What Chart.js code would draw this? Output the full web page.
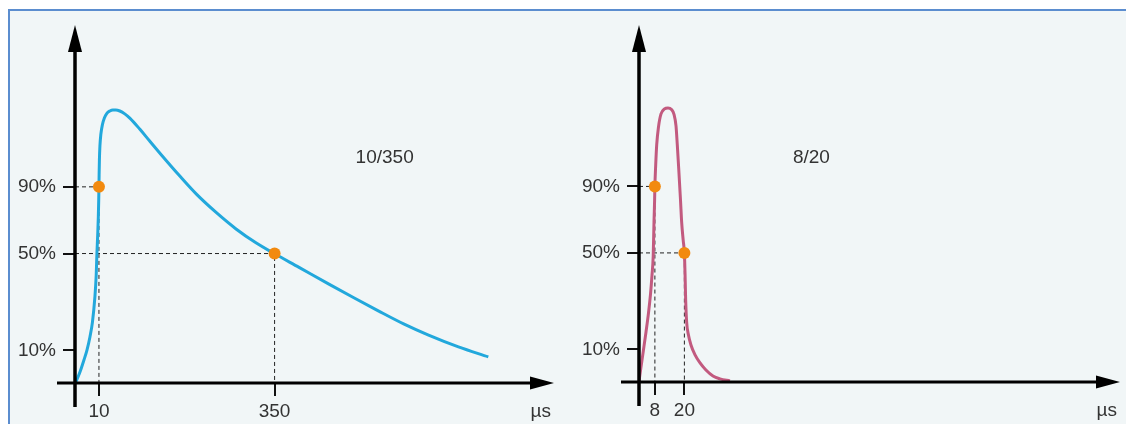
<!DOCTYPE html>
<html>
<head>
<meta charset="utf-8">
<script src="https://cdn.jsdelivr.net/npm/chart.js@4.4.1/dist/chart.umd.min.js"></script>
<style>
  html, body { margin: 0; padding: 0; background: #fff; }
  #wrap { position: relative; width: 1126px; height: 424px; overflow: hidden; }
  #panel {
    position: absolute; left: 8px; top: 9px; right: 0; bottom: 0;
    background: #f1f6f7;
    border-top: 2px solid #5b8dcf;
    border-left: 2px solid #5b8dcf;
  }
  canvas { position: absolute; top: 0; }
</style>
</head>
<body>
<div id="wrap">
  <div id="panel"></div>
  <canvas id="left" width="560" height="424" style="left:0"></canvas>
  <canvas id="right" width="566" height="424" style="left:560px"></canvas>
</div>
<script>
// schematic units (ticks are not evenly spaced there)
const yTickPos = [12.5, 49.5, 75];
const yTickLabels = ["10%", "50%", "90%"];

// 10/350 wave
const leftTickPos = [42, 350];
const leftTickLabels = ["10", "350"];
const leftT = [1.7, 8.7, 15.7, 21.0, 26.2, 30.6, 34.9, 37.2, 38.4, 39.8, 40.9, 41.6, 42.0, 42.3, 42.8, 43.7, 45.4, 48.0, 51.5, 55.9, 61.1, 66.4, 71.6, 78.6, 87.3, 96.1, 113.5, 131.0, 154.2, 183.4, 212.5, 247.5, 282.4, 317.3, 350, 392.9, 445.3, 489.0, 532.7, 576.3, 620.0, 672.4, 724.8];
const leftV = [0.4, 4.2, 8.8, 12.6, 17.6, 23.3, 32.9, 41.3, 49.3, 56.6, 63.5, 70.0, 75.0, 79.5, 85.3, 90.6, 95.2, 98.7, 101.3, 103.1, 104.0, 104.4, 104.4, 104.0, 102.9, 101.3, 97.1, 92.5, 86.5, 79.2, 72.3, 65.2, 58.9, 53.6, 49.4, 44.2, 37.8, 32.6, 27.5, 22.6, 18.3, 13.8, 10.0];
const leftMarkT = [42, 350];
const leftMarkV = [75, 49.5];

// 8/20 wave
const rightTickPos = [7, 20];
const rightTickLabels = ["8", "20"];
const rightT = [0, 0.88, 1.9, 3.09, 4.19, 5.07, 5.73, 6.26, 6.61, 6.88, 7.0, 7.36, 7.8, 8.59, 9.7, 11.24, 12.78, 14.32, 15.43, 16.31, 16.88, 17.54, 18.29, 18.8, 19.47, 20.0, 20.31, 20.57, 21.0, 21.8, 22.9, 24.7, 26.9, 29.5, 32.6, 35.7, 40.1];
const rightV = [0.2, 5.75, 11.9, 19.2, 26.5, 33.7, 41.0, 48.3, 61.3, 69.8, 75.0, 83.2, 90.9, 97.8, 102.8, 104.7, 105.1, 104.5, 102.6, 98.2, 90.9, 81.3, 69.8, 61.3, 54.4, 49.5, 41.0, 31.4, 23.0, 18.0, 14.2, 10.4, 7.3, 4.6, 2.3, 1.2, 0.4];
const rightMarkT = [7, 20];
const rightMarkV = [75, 49.5];

Chart.defaults.font.family = '"Liberation Sans", Arial, sans-serif';
Chart.defaults.font.size = 19;
Chart.defaults.color = "#333";

// axis lines with arrows, unit label and wave name
const arrowAxes = {
  id: "arrowAxes",
  afterDatasetsDraw(chart, args, opts) {
    const ctx = chart.ctx;
    const area = chart.chartArea;
    const x0 = chart.scales.x.getPixelForValue(0);
    const y0 = chart.scales.y.getPixelForValue(0);
    ctx.save();
    ctx.strokeStyle = "#000";
    ctx.fillStyle = "#000";
    ctx.lineWidth = 3.5;
    ctx.beginPath();
    ctx.moveTo(x0, y0 + 24);
    ctx.lineTo(x0, area.top - 4);
    ctx.stroke();
    ctx.lineWidth = 3;
    ctx.beginPath();
    ctx.moveTo(x0 - 18, y0);
    ctx.lineTo(area.right - 18, y0);
    ctx.stroke();
    // up arrow
    ctx.beginPath();
    ctx.moveTo(x0, area.top - 18);
    ctx.lineTo(x0 - 7, area.top + 9);
    ctx.lineTo(x0 + 7, area.top + 9);
    ctx.closePath();
    ctx.fill();
    // right arrow
    ctx.beginPath();
    ctx.moveTo(area.right, y0);
    ctx.lineTo(area.right - 24, y0 - 6.5);
    ctx.lineTo(area.right - 24, y0 + 6.5);
    ctx.closePath();
    ctx.fill();

    ctx.fillStyle = "#333";
    ctx.font = '19px "Liberation Sans", Arial, sans-serif';
    ctx.textBaseline = "middle";
    ctx.textAlign = "right";
    ctx.fillText("\u00b5s", area.right - 3, y0 + 29);
    ctx.textAlign = "center";
    ctx.fillText(opts.title, chart.scales.x.getPixelForValue(opts.titleAt[0]), chart.scales.y.getPixelForValue(opts.titleAt[1]));
    ctx.restore();
  }
};

function makeChart(id, cfg) {
  const dots = cfg.markT.map((t, i) => ({ x: t, y: cfg.markV[i] }));
  const guides = cfg.markT.map((t, i) => ({
    type: "line",
    data: [{ x: 0, y: cfg.markV[i] }, { x: t, y: cfg.markV[i] }, { x: t, y: 0 }],
    borderColor: "#222",
    borderWidth: 1,
    borderDash: [4, 3],
    pointRadius: 0,
    tension: 0
  }));

  return new Chart(document.getElementById(id), {
    type: "line",
    data: {
      datasets: [
        {
          type: "scatter",
          data: dots,
          pointRadius: 6,
          pointBackgroundColor: "#f28a0f",
          pointBorderWidth: 0
        },
        {
          data: cfg.t.map((t, i) => ({ x: t, y: cfg.v[i] })),
          borderColor: cfg.color,
          borderWidth: 3,
          pointRadius: 0,
          cubicInterpolationMode: "monotone",
          fill: false
        },
        ...guides
      ]
    },
    options: {
      responsive: false,
      animation: false,
      layout: { padding: { left: 0, top: 43, right: cfg.padRight, bottom: 0 } },
      plugins: {
        legend: { display: false },
        tooltip: { enabled: false },
        arrowAxes: { title: cfg.title, titleAt: cfg.titleAt }
      },
      scales: {
        x: {
          type: "linear",
          min: 0,
          max: cfg.xMax,
          afterBuildTicks: (s) => { s.ticks = cfg.tickPos.map((v) => ({ value: v })); },
          afterFit: (s) => { s.height = cfg.xHeight; },
          ticks: {
            autoSkip: false,
            maxRotation: 0,
            padding: 4,
            callback: (v, i) => cfg.tickLabels[i]
          },
          grid: { drawOnChartArea: false, tickLength: 13, color: "#111", lineWidth: 2 },
          border: { display: false }
        },
        y: {
          type: "linear",
          min: 0,
          max: 130,
          afterBuildTicks: (s) => { s.ticks = yTickPos.map((v) => ({ value: v })); },
          afterFit: (s) => { s.width = cfg.yWidth; },
          ticks: {
            autoSkip: false,
            padding: 7,
            callback: (v, i) => yTickLabels[i]
          },
          grid: { drawOnChartArea: false, tickLength: 12, color: "#111", lineWidth: 2 },
          border: { display: false }
        }
      }
    },
    plugins: [arrowAxes]
  });
}

makeChart("left", {
  t: leftT, v: leftV, markT: leftMarkT, markV: leftMarkV,
  tickPos: leftTickPos, tickLabels: leftTickLabels,
  color: "#22a8dc", xMax: 840, padRight: 4, yWidth: 75, xHeight: 41,
  title: "10/350", titleAt: [543, 86]
});

makeChart("right", {
  t: rightT, v: rightV, markT: rightMarkT, markV: rightMarkV,
  tickPos: rightTickPos, tickLabels: rightTickLabels,
  color: "#c25a7f", xMax: 212, padRight: 6, yWidth: 79, xHeight: 42,
  title: "8/20", titleAt: [76, 86]
});
</script>
</body>
</html>
